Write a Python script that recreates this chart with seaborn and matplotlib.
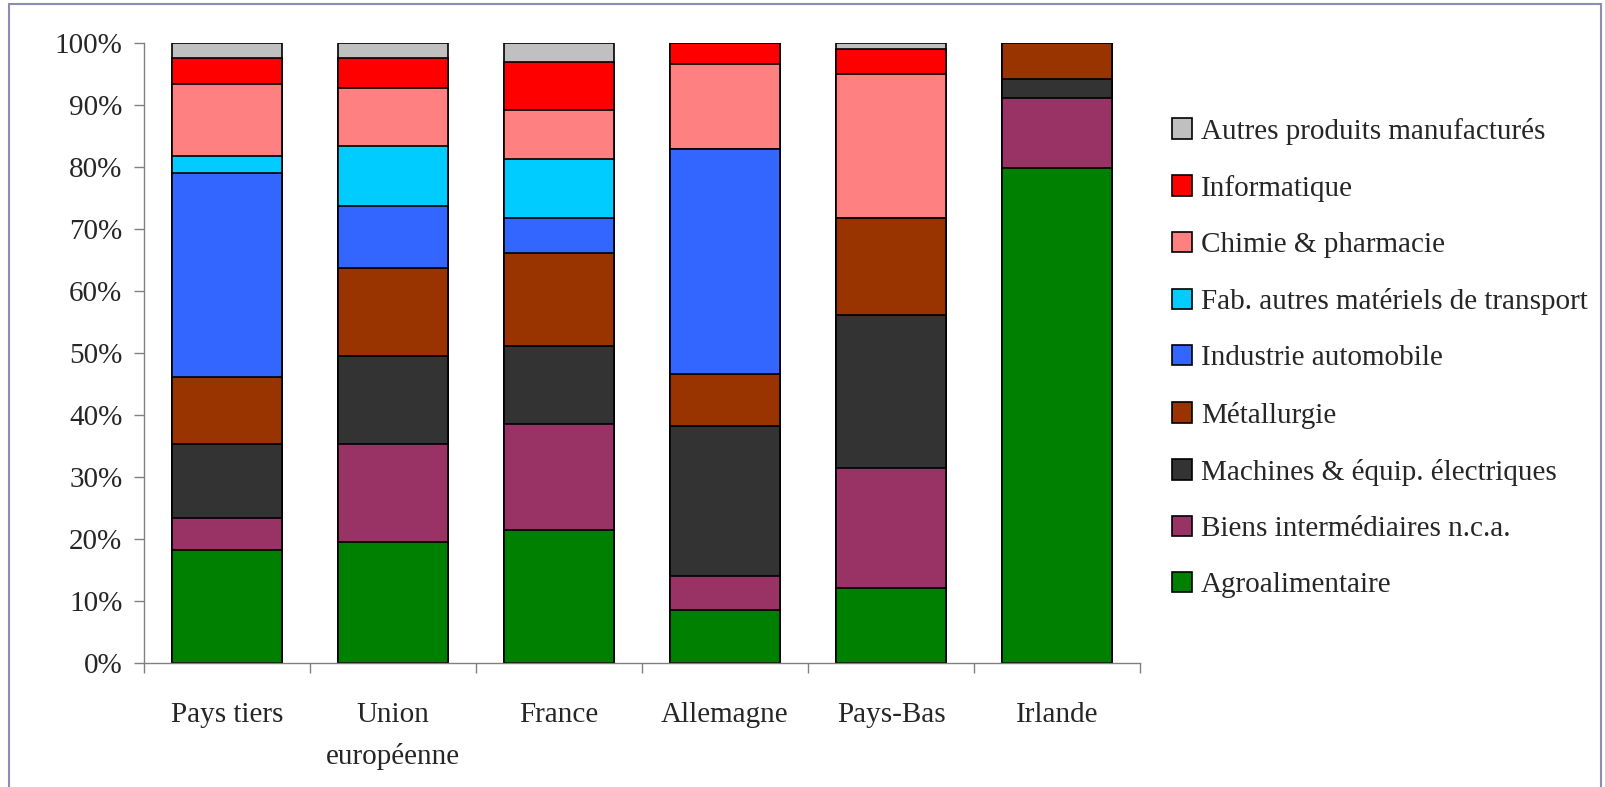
import matplotlib
matplotlib.use('Agg')
import matplotlib.pyplot as plt
from matplotlib.patches import Patch, Rectangle
import numpy as np
import seaborn as sns

# categories on the x axis (tick labels)
categories = ['Pays tiers', 'Union\neuropéenne', 'France', 'Allemagne', 'Pays-Bas', 'Irlande']

# series, bottom to top of each stack (share in %)
sectors = ['Agroalimentaire', 'Biens intermédiaires n.c.a.', 'Machines & équip. électriques',
           'Métallurgie', 'Industrie automobile', 'Fab. autres matériels de transport',
           'Chimie & pharmacie', 'Informatique', 'Autres produits manufacturés']

agro = [18.3, 19.6, 21.5, 8.6, 12.2, 79.9]
biens = [5.2, 15.8, 17.1, 5.5, 19.3, 11.3]
machines = [11.9, 14.2, 12.6, 24.2, 24.6, 3.0]
metallurgie = [10.7, 14.2, 14.9, 8.4, 15.8, 5.8]
automobile = [32.9, 10.0, 5.8, 36.2, 0.0, 0.0]
transport = [2.8, 9.7, 9.4, 0.0, 0.0, 0.0]
chimie = [11.6, 9.3, 7.9, 13.8, 23.2, 0.0]
informatique = [4.2, 4.8, 7.8, 3.3, 3.9, 0.0]
autres = [2.4, 2.4, 3.0, 0.0, 1.0, 0.0]

colors = ['#008000', '#993366', '#333333', '#993300', '#3366FF',
          '#00CCFF', '#FF8080', '#FF0000', '#C0C0C0']

series = [agro, biens, machines, metallurgie, automobile, transport, chimie, informatique, autres]

sns.set_style('white')
plt.rcParams['font.family'] = ['Liberation Serif', 'DejaVu Serif']
fs = 21

fig = plt.figure(figsize=(16.05, 7.87), dpi=100)
ax = fig.add_axes([144 / 1605, 1 - 663.3 / 787, (1140 - 144) / 1605, (663.3 - 43.3) / 787])

# stacked bars: draw cumulative totals from the top series down
cum = np.cumsum(np.array(series), axis=0)
for i in range(len(series) - 1, -1, -1):
    sns.barplot(x=categories, y=cum[i], color=colors[i], saturation=1, errorbar=None,
                edgecolor='black', linewidth=1.2, width=0.66, ax=ax)

ax.set_xlim(-0.5, 5.5)
ax.set_ylim(0, 100)
ax.set_yticks(np.arange(0, 101, 10))
ax.set_yticklabels([f'{v}%' for v in range(0, 101, 10)], fontsize=fs)
ax.set_xticks(range(len(categories)))
ax.set_xticklabels(categories, fontsize=fs, linespacing=1.7)
ax.set_xticks(np.arange(-0.5, 6, 1), minor=True)
ax.tick_params(axis='x', which='major', bottom=True, length=0, pad=28)
ax.tick_params(axis='x', which='minor', bottom=True, length=7.5, width=1, color='#808080', direction='out')
ax.tick_params(axis='y', which='major', left=True, length=7.5, width=1, color='#808080', direction='out', pad=8)
ax.set_xlabel('')
ax.set_ylabel('')

for side in ['top', 'right']:
    ax.spines[side].set_visible(False)
for side in ['left', 'bottom']:
    ax.spines[side].set_color('#808080')
    ax.spines[side].set_linewidth(1)

# legend, top entry = top of stack
handles = [Patch(facecolor=colors[i], edgecolor='black', linewidth=1.2) for i in range(len(series) - 1, -1, -1)]
labels = [sectors[i] for i in range(len(series) - 1, -1, -1)]
fig.legend(handles, labels, loc='center left', bbox_to_anchor=(1172 / 1605, 1 - 358 / 787),
           frameon=False, fontsize=fs, handlelength=0.7, handleheight=0.7,
           handletextpad=0.3, labelspacing=1.03, borderpad=0, borderaxespad=0)

# outer chart border
fig.add_artist(Rectangle((9 / 1605, -0.01), (1601 - 9) / 1605, 1.01 - 4 / 787,
                         transform=fig.transFigure, fill=False, edgecolor='#8c8cb4', linewidth=1.5))

fig.savefig('out.png', dpi=100)
